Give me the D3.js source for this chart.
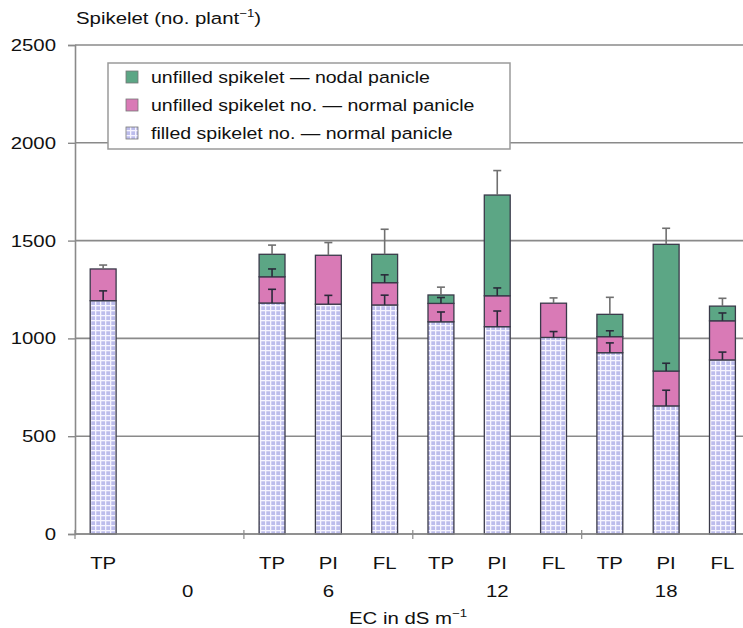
<!DOCTYPE html>
<html>
<head>
<meta charset="utf-8">
<script src="https://cdn.jsdelivr.net/npm/d3@7"></script>
<style>
  html, body { margin: 0; padding: 0; background: #fff; }
  svg { display: block; font-family: "Liberation Sans", Arial, sans-serif; }
</style>
</head>
<body>
<svg id="chart" width="743" height="628"></svg>
<script>
// ---- data ----
const stages = ["TP", "", "", "TP", "PI", "FL", "TP", "PI", "FL", "TP", "PI", "FL"];
const ecGroups = ["0", "6", "12", "18"];
const groupSpans = [[0, 3], [3, 6], [6, 9], [9, 12]];
const filledNormal   = [1193, 0, 0, 1181, 1175, 1171, 1085, 1060, 1005, 927, 655, 890];
const unfilledNormal = [162, 0, 0, 134, 250, 114, 94, 158, 175, 82, 178, 200];
const unfilledNodal  = [0, 0, 0, 115, 0, 145, 43, 515, 0, 114, 648, 75];
const errFilled      = [50, 0, 0, 70, 45, 50, 50, 80, 30, 50, 80, 40];
const errUnfilled    = [20, 0, 0, 40, 65, 40, 30, 40, 27, 30, 40, 40];
const errNodal       = [0, 0, 0, 47, 0, 128, 40, 125, 0, 87, 82, 40];
const yTicks = [0, 500, 1000, 1500, 2000, 2500];
const seriesNames = [
  "unfilled spikelet \u2014 nodal panicle",
  "unfilled spikelet no. \u2014 normal panicle",
  "filled spikelet no. \u2014 normal panicle"
];

// ---- layout ----
const svg = d3.select("#chart");
const x0 = 75, yTop = 45, yBottom = 534;
const FS = 17, SX = 1.2;
const x = d3.scaleBand().domain(d3.range(stages.length))
  .range([x0, 750.6]).paddingInner(0.54).paddingOuter(0.27);
const step = x.step();
const y = d3.scaleLinear().domain([0, 2500]).range([yBottom, yTop]);

// stretched text helper (reference text is horizontally stretched)
function txt(parent, px, py, anchor, sx) {
  return parent.append("text")
    .attr("transform", `translate(${px},${py}) scale(${sx || SX},1)`)
    .attr("text-anchor", anchor || "start")
    .attr("font-size", FS).attr("fill", "#111");
}

// pattern for filled
const defs = svg.append("defs");
const pat = defs.append("pattern").attr("id", "grid").attr("patternUnits", "userSpaceOnUse")
  .attr("width", 5).attr("height", 5);
pat.append("rect").attr("width", 5).attr("height", 5).attr("fill", "#bcbcec");
pat.append("rect").attr("x", 0).attr("y", 0).attr("width", 5).attr("height", 1.3).attr("fill", "#f6f4ff");
pat.append("rect").attr("x", 0).attr("y", 0).attr("width", 1.3).attr("height", 5).attr("fill", "#f6f4ff");

const colors = { nodal: "#5ca685", unfilled: "#d97ab6", filled: "url(#grid)" };

// gridlines
svg.append("g").selectAll("line").data(yTicks).join("line")
  .attr("x1", x0).attr("x2", 743)
  .attr("y1", d => y(d)).attr("y2", d => y(d))
  .attr("stroke", "#8a8a8a").attr("stroke-width", 1.6);

// y axis (line + ticks via d3 axis, labels drawn stretched)
const yAxis = d3.axisLeft(y).tickValues(yTicks).tickSize(7).tickFormat("");
const gy = svg.append("g").attr("transform", `translate(${x0},0)`).call(yAxis);
gy.select(".domain").attr("stroke", "#8a8a8a").attr("stroke-width", 1.6);
gy.selectAll(".tick line").attr("stroke", "#8a8a8a").attr("stroke-width", 1.4);
const gyl = svg.append("g");
yTicks.forEach(t => {
  txt(gyl, 56, y(t) + 6, "end").text(d3.format("d")(t));
});

// bars
const stackData = stages.map((s, i) => ({
  i, filled: filledNormal[i], unfilled: unfilledNormal[i], nodal: unfilledNodal[i]
}));
const stack = d3.stack().keys(["filled", "unfilled", "nodal"]);
const layers = stack(stackData);
const gBars = svg.append("g");
layers.forEach(layer => {
  gBars.append("g").selectAll("rect")
    .data(layer.filter(d => d[1] - d[0] > 0)).join("rect")
    .attr("x", d => x(d.data.i)).attr("width", x.bandwidth())
    .attr("y", d => y(d[1])).attr("height", d => y(d[0]) - y(d[1]))
    .attr("fill", colors[layer.key])
    .attr("stroke", "#3a3a4a").attr("stroke-width", 1.3);
});

// error bars
const errs = { filled: errFilled, unfilled: errUnfilled, nodal: errNodal };
const gErr = svg.append("g");
layers.forEach((layer, li) => {
  layer.forEach(d => {
    const i = d.data.i;
    if (d[1] - d[0] <= 0) return;
    const e = errs[layer.key][i];
    if (!e) return;
    const isTop = layers.slice(li + 1).every(l => l[i][1] - l[i][0] <= 0);
    const cx = x(i) + x.bandwidth() / 2;
    const col = isTop ? "#707070" : "#2a2a3a";
    gErr.append("line").attr("x1", cx).attr("x2", cx)
      .attr("y1", y(d[1])).attr("y2", y(d[1] + e))
      .attr("stroke", col).attr("stroke-width", 1.6);
    gErr.append("line").attr("x1", cx - 4).attr("x2", cx + 4)
      .attr("y1", y(d[1] + e)).attr("y2", y(d[1] + e))
      .attr("stroke", col).attr("stroke-width", 1.6);
  });
});

// x axis line
svg.append("line").attr("x1", x0).attr("x2", 743).attr("y1", yBottom).attr("y2", yBottom)
  .attr("stroke", "#8a8a8a").attr("stroke-width", 1.6);
// group boundary ticks
const bounds = groupSpans.map(s => s[0]);
svg.append("g").selectAll("line").data(bounds).join("line")
  .attr("x1", d => x0 + d * step).attr("x2", d => x0 + d * step)
  .attr("y1", yBottom - 4).attr("y2", yBottom + 5)
  .attr("stroke", "#8a8a8a").attr("stroke-width", 1.2);

// stage labels
const gs = svg.append("g");
stages.forEach((s, i) => {
  if (!s) return;
  txt(gs, x(i) + x.bandwidth() / 2, 569, "middle").text(s);
});

// group labels
const gg = svg.append("g");
ecGroups.forEach((g, gi) => {
  const [a, b] = groupSpans[gi];
  const mid = (a + b) / 2 + (gi === 0 ? 0.5 : 0);
  txt(gg, x0 + mid * step, 597, "middle").text(g);
});

// x axis title
const xt = txt(svg, 408, 624, "middle");
xt.append("tspan").text("EC in dS m");
xt.append("tspan").attr("dy", -7).attr("font-size", 11).text("\u22121");

// y title
const yt = txt(svg, 76, 24, "start");
yt.append("tspan").text("Spikelet (no. plant");
yt.append("tspan").attr("dy", -7).attr("font-size", 11).text("\u22121");
yt.append("tspan").attr("dy", 7).text(")");

// legend
const lg = svg.append("g");
lg.append("rect").attr("x", 108).attr("y", 63).attr("width", 402).attr("height", 86)
  .attr("fill", "#fff").attr("stroke", "#9a9a9a").attr("stroke-width", 1.5);
const legendFills = [colors.nodal, colors.unfilled, colors.filled];
seriesNames.forEach((name, k) => {
  const cy = 77 + k * 28;
  lg.append("rect").attr("x", 126).attr("y", cy - 6).attr("width", 12).attr("height", 12)
    .attr("fill", legendFills[k]).attr("stroke", "#777").attr("stroke-width", 0.8);
  txt(lg, 151, cy + 6, "start", 1.15).text(name);
});
</script>
</body>
</html>
